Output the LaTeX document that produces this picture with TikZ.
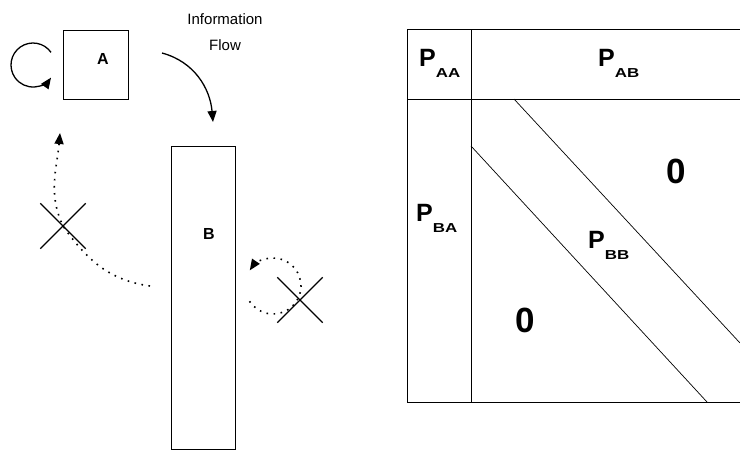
\documentclass[tikz,border=0pt]{standalone}
\usepackage{fontspec}
\setmainfont{Liberation Sans}
\usetikzlibrary{arrows.meta,shapes.misc,calc}

% subscripted block label, e.g. P_AA
\newcommand{\blocklabel}[1]{\fontsize{25}{25}\selectfont\bfseries P\raisebox{-10.5pt}{\scalebox{1.3}[1]{\fontsize{13}{13}\selectfont\bfseries #1}}}

\begin{document}
\begin{tikzpicture}[x=1pt,y=-1pt,
  box/.style={draw, line width=0.9pt, inner sep=0pt, anchor=north west},
  boxlabel/.style={font=\fontsize{16}{16}\selectfont\bfseries},
  grid/.style={line width=0.9pt},
  diag/.style={line width=0.7pt},
  flow/.style={line width=1.3pt, -{Triangle[length=11pt,width=9pt]}},
  blocked/.style={line width=1.6pt, dash pattern=on 1.6pt off 5.5pt, -{Triangle[length=11pt,width=9pt]}},
  cross/.style={cross out, draw, line width=1.3pt, inner sep=0pt, minimum size=44pt},
  blk/.style={inner sep=0pt, anchor=base west},
  zero/.style={font=\fontsize{35}{35}\selectfont\bfseries}]
\useasboundingbox (0,0) rectangle (740,451);

% ---- left part: the two blocks and the flow between them ----
\node[box, minimum width=65pt, minimum height=69pt] (A) at (63,30) {};
\node[boxlabel] (Alab) at (103,59) {A};
\node[box, minimum width=64pt, minimum height=303pt] (B) at (171,146) {};
\node[boxlabel] (Blab) at (209,234) {B};

\node[align=center, font=\fontsize{15}{26}\selectfont] (info) at (225,32) {Information\\Flow};

% self-iteration of block A
\coordinate (loopA) at ($(33,65)+(-35:22)$);
\draw[flow] (loopA) arc[start angle=-35, end angle=-325, radius=22];

% A feeds B (to/out/in angles are taken on the page, y pointing up)
\coordinate (flowS) at (162,53);
\coordinate (flowE) at (213,122);
\draw[flow] (flowS) to[out=-15, in=95] (flowE);

% no feedback from B to A
\coordinate (backS) at (150,286);
\coordinate (backM) at (63,226);
\coordinate (backE) at (60,133);
\draw[blocked] (backS) to[out=172, in=-55] (backM) to[out=115, in=-95] (backE);
\node[cross] (x1) at (backM) {};

% no self-iteration of block B
\coordinate (selfB) at ($(273,286)+(147:28)$);
\draw[blocked] (selfB) arc[start angle=147, end angle=-146, radius=28];
\node[cross] (x2) at (300,300) {};

% ---- right part: block matrix ----
\draw[grid] (740,29) -- (407,29) -- (407,402) -- (740,402);
\draw[grid] (471,29) -- (471,402);
\draw[grid] (407,99) -- (740,99);
\draw[diag] (514,99) -- (740,343);
\draw[diag] (471,146) -- (707,402);

\node[blk] (paa) at (419,66.5) {\blocklabel{AA}};
\node[blk] (pab) at (598,66.5) {\blocklabel{AB}};
\node[blk] (pba) at (416,221.5) {\blocklabel{BA}};
\node[blk] (pbb) at (588,248.5) {\blocklabel{BB}};
\node[zero] (z1) at (676,171) {0};
\node[zero] (z2) at (525,320) {0};
\end{tikzpicture}
\end{document}
